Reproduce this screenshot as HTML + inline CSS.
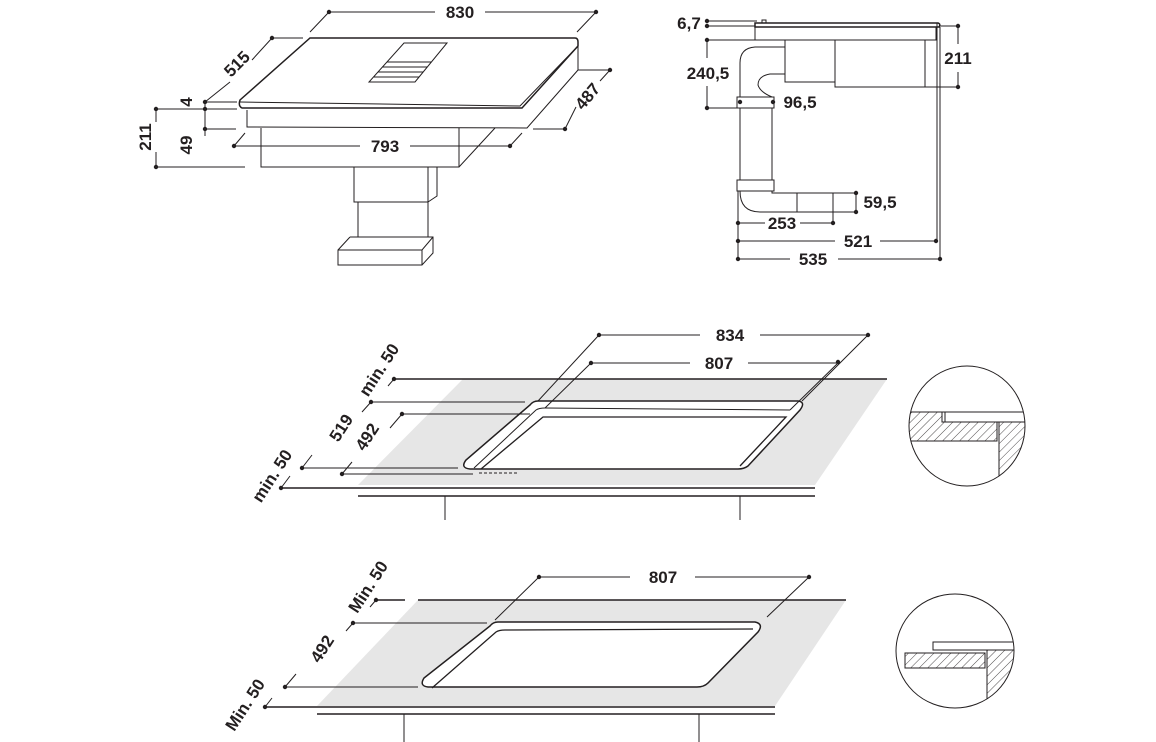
<!DOCTYPE html>
<html><head><meta charset="utf-8"><style>
html,body{margin:0;padding:0;background:#fff}
svg{display:block}
text{font-family:"Liberation Sans",sans-serif;font-size:17px;font-weight:bold;fill:#231f20}
</style></head><body>
<svg width="1156" height="742" viewBox="0 0 1156 742" xmlns="http://www.w3.org/2000/svg">
<defs>
<pattern id="h" width="6" height="6" patternUnits="userSpaceOnUse" patternTransform="rotate(45)"><line x1="0" y1="0" x2="0" y2="6" stroke="#231f20" stroke-width="0.8"/></pattern>
<clipPath id="c1"><ellipse cx="967" cy="426" rx="58" ry="60"/></clipPath>
<clipPath id="c2"><ellipse cx="955" cy="651" rx="59" ry="57"/></clipPath>
</defs>
<g stroke="#231f20" fill="none" stroke-width="1">
<path d="M310,38 L575,38 Q578,38 578,42 L578,46 L522,108 L242,108 Q238,106 240,100 Z" fill="#fff" stroke-width="1.5"/>
<path d="M240,102 L520,106 L578,46" />
<path d="M247,110 L247,127 L527,128 L578,70 L578,46"/>
<path d="M261,128 L261,167 L459,167 L495,128"/>
<path d="M459,128 L459,167"/>
<path d="M404,43 L447,43 L415,82 L369,82 Z"/>
<path d="M382,67 L427,67 M378,72 L423,72 M374,77 L419,77 M387,62 L431,62"/>
<path d="M354,167 L354,202 L428,202 L428,167 M428,167 L437,167 L437,196 L428,202"/>
<path d="M358,202 L358,237 M428,202 L428,237"/>
<path d="M350,237 L433,237 L433,253 L422,265 L338,265 L338,250 L350,237 M338,250 L422,250 L433,237 M422,250 L422,265"/>
<path d="M329,12 L435,12 M485,12 L596,12"/>
<path d="M310,32 L329,12 M577,32 L597,11"/>
<path d="M272,38 L303,38 M272,38 L252,60 M230,82 L205,102"/>
<path d="M578,70 L610,70 M533,129 L565,129 M610,70 L600,81 M576,107 L565,129"/>
<path d="M205,102 L237,102 M205,109 L237,109 M205,129 L236,129 M205,102 L205,136"/>
<path d="M156,109 L205,109 M156,167 L245,167 M156,109 L156,122 M156,152 L156,167"/>
<path d="M234,146 L360,146 M410,146 L510,146 M234,146 L245,133 M510,146 L522,133"/>
<path d="M755,23 L938,23 Q941,24 939,27 L755,27 Z" stroke-width="1.5"/>
<path d="M762,23 L762,20 L766,20 L766,23"/>
<path d="M755,27 L755,40 L936,40 L936,27"/>
<rect x="785" y="40" width="50" height="42"/>
<rect x="835" y="40" width="90" height="47"/>
<path d="M785,47 L755,47 Q740,48 740,63 L740,97 M785,74 L770,74 Q758,76 758,85 Q760,92 772,97"/>
<rect x="737" y="97" width="37" height="11"/>
<path d="M740,108 L740,180 M772,108 L772,180"/>
<rect x="737" y="180" width="37" height="11"/>
<path d="M740,191 Q740,212 760,212 L833,212 L833,193 L772,193 L772,191 M797,193 L797,212"/>
<path d="M707,21 L757,21 M707,26 L755,26 M707,40 L755,40 M707,40 L707,58 M707,86 L707,108 L774,108"/>
<path d="M940,26 L958,26 M835,87 L958,87 M958,26 L958,44 M958,72 L958,87"/>
<path d="M937,23 L937,241 M940,27 L940,259"/>
<path d="M833,193 L856,193 M833,212 L856,212 M856,193 L856,212"/>
<path d="M738,191 L738,259 M738,223 L765,223 M800,223 L833,223 M833,212 L833,223"/>
<path d="M738,241 L835,241 M880,241 L936,241 M738,259 L790,259 M838,259 L940,259"/>
<path d="M463,379 L887,379 L815,485 L358,485 Z" fill="#e6e6e6" stroke="none"/>
<path d="M394,379 L887,379" stroke-width="1.5"/>
<path d="M281,488 L815,488 M358,496 L815,496" stroke-width="1.5"/>
<path d="M445,496 L445,520 M740,496 L740,520"/>
<path d="M538,401 L798,401 Q806,402 800,410 L748,466 Q744,469 738,469 L470,469 Q460,468 466,460 L530,405 Q533,401 538,401 Z" fill="#fff" stroke-width="1.5"/>
<path d="M474,468 L536,410 Q539,408 545,408 L790,410"/>
<path d="M481,469 L543,417 L786,417 L740,466" stroke-width="1.3"/>
<path d="M479,473 L517,473" stroke-dasharray="3,2"/>
<path d="M599,335 L700,335 M760,335 L868,335 M591,363 L690,363 M748,363 L838,363"/>
<path d="M599,335 L538,401 M868,335 L802,401 M591,363 L545,408 M838,363 L790,410"/>
<path d="M371,402 L525,402 M402,414 L530,414 M302,468 L458,468 M342,474 L473,474"/>
<path d="M394,379 L388,386 M371,402 L362,412 M402,414 L390,428 M342,474 L352,462 M302,468 L312,455 M281,488 L290,476"/>
<ellipse cx="967" cy="426" rx="58" ry="60" fill="#fff"/>
<g clip-path="url(#c1)">
<path d="M916,412 L1030,412 M945,412 L945,422 L1030,422"/>
<path d="M900,412 L942,412 L942,422 L997,422 L997,441 L900,441" fill="url(#h)"/>
<path d="M999,422 L999,480 M999,422 L1030,422 L1030,480 L999,480" fill="url(#h)"/>
</g>
<path d="M418,600 L846,600 L775,706 L317,706 Z" fill="#e6e6e6" stroke="none"/>
<path d="M376,600 L405,600 M418,600 L846,600" stroke-width="1.5"/>
<path d="M265,707 L775,707 M317,714 L775,714" stroke-width="1.5"/>
<path d="M404,714 L404,742 M699,714 L699,742"/>
<path d="M498,622 L755,622 Q764,624 758,632 L708,683 Q704,687 697,687 L428,687 Q419,686 424,678 L490,626 Q493,622 498,622 Z" fill="#fff" stroke-width="1.5"/>
<path d="M432,688 L496,632 Q499,630 505,630 L753,629" stroke-width="1.3"/>
<path d="M539,577 L630,577 M695,577 L809,577 M539,577 L495,620 M809,577 L767,617"/>
<path d="M353,623 L487,623 M285,687 L418,687"/>
<path d="M376,600 L370,607 M353,623 L346,631 M285,687 L296,674 M265,707 L272,698"/>
<ellipse cx="955" cy="651" rx="59" ry="57" fill="#fff"/>
<g clip-path="url(#c2)">
<path d="M933,642 L1020,642 L1020,650 L933,650 Z"/>
<path d="M905,653 L985,653 L985,668 L905,668 Z" fill="url(#h)"/>
<path d="M987,650 L987,710 M987,650 L1020,650 L1020,710 L987,710" fill="url(#h)"/>
</g>
</g>
<g fill="#231f20">
<circle cx="329" cy="12" r="2.2"/><circle cx="596" cy="12" r="2.2"/><circle cx="272" cy="38" r="2.2"/>
<circle cx="610" cy="70" r="2.2"/><circle cx="565" cy="129" r="2.2"/>
<circle cx="205" cy="102" r="2.2"/><circle cx="205" cy="109" r="2.2"/><circle cx="205" cy="129" r="2.2"/>
<circle cx="156" cy="109" r="2.2"/><circle cx="156" cy="167" r="2.2"/>
<circle cx="234" cy="146" r="2.2"/><circle cx="510" cy="146" r="2.2"/>
<circle cx="707" cy="21" r="2.2"/><circle cx="707" cy="26" r="2.2"/><circle cx="707" cy="40" r="2.2"/><circle cx="707" cy="108" r="2.2"/>
<circle cx="740" cy="102" r="2.2"/><circle cx="773" cy="102" r="2.2"/>
<circle cx="958" cy="26" r="2.2"/><circle cx="958" cy="87" r="2.2"/>
<circle cx="856" cy="193" r="2.2"/><circle cx="856" cy="212" r="2.2"/>
<circle cx="738" cy="223" r="2.2"/><circle cx="833" cy="223" r="2.2"/>
<circle cx="738" cy="241" r="2.2"/><circle cx="936" cy="241" r="2.2"/>
<circle cx="738" cy="259" r="2.2"/><circle cx="940" cy="259" r="2.2"/>
<circle cx="599" cy="335" r="2.2"/><circle cx="868" cy="335" r="2.2"/><circle cx="591" cy="363" r="2.2"/><circle cx="838" cy="362" r="2.2"/>
<circle cx="394" cy="379" r="2.2"/><circle cx="371" cy="402" r="2.2"/><circle cx="402" cy="414" r="2.2"/>
<circle cx="302" cy="468" r="2.2"/><circle cx="342" cy="474" r="2.2"/><circle cx="281" cy="488" r="2.2"/>
<circle cx="539" cy="577" r="2.2"/><circle cx="809" cy="577" r="2.2"/>
<circle cx="376" cy="600" r="2.2"/><circle cx="353" cy="623" r="2.2"/><circle cx="285" cy="687" r="2.2"/><circle cx="265" cy="707" r="2.2"/>
</g>
<g text-anchor="middle">
<text x="460" y="18">830</text>
<text transform="translate(241,68) rotate(-45)">515</text>
<text transform="translate(592,100) rotate(-50)">487</text>
<text transform="translate(192,102) rotate(-90)">4</text>
<text transform="translate(192,145) rotate(-90)">49</text>
<text transform="translate(151,137) rotate(-90)">211</text>
<text x="385" y="152">793</text>
<text x="689" y="29">6,7</text>
<text x="708" y="79">240,5</text>
<text x="800" y="108">96,5</text>
<text x="958" y="64">211</text>
<text x="880" y="208">59,5</text>
<text x="782" y="229">253</text>
<text x="858" y="247">521</text>
<text x="813" y="265">535</text>
<text x="730" y="341">834</text>
<text x="719" y="369">807</text>
<text transform="translate(384,373) rotate(-57)">min. 50</text>
<text transform="translate(346,431) rotate(-57)">519</text>
<text transform="translate(372,440) rotate(-57)">492</text>
<text transform="translate(277,479) rotate(-57)">min. 50</text>
<text x="663" y="583">807</text>
<text transform="translate(373,590) rotate(-57)">Min. 50</text>
<text transform="translate(327,652) rotate(-57)">492</text>
<text transform="translate(250,708) rotate(-57)">Min. 50</text>
</g>
</svg>
</body></html>
